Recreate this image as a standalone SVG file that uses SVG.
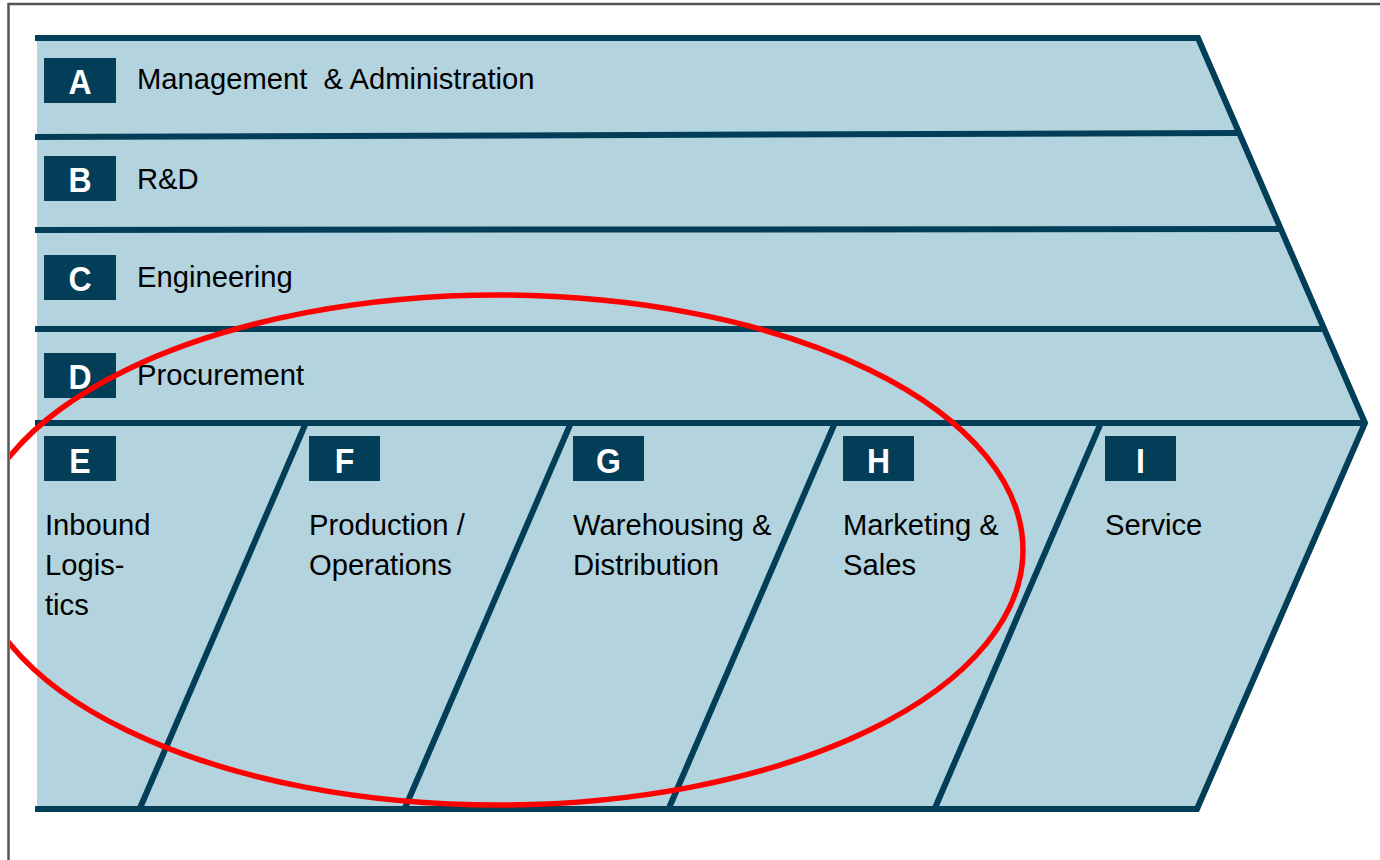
<svg xmlns="http://www.w3.org/2000/svg" width="1380" height="860" viewBox="0 0 1380 860">
<style>
.ln{stroke:#023e57;stroke-width:6;fill:none;stroke-linejoin:miter}
.box{fill:#023e57}
.ltr{font-family:"Liberation Sans",Arial,sans-serif;font-weight:bold;font-size:32px;fill:#ffffff;text-anchor:middle}
.txt{font-family:"Liberation Sans",Arial,sans-serif;font-size:29.2px;fill:#000000}
</style>
<defs>
<clipPath id="clipL"><rect x="10" y="0" width="1370" height="860"/></clipPath>
</defs>
<rect width="1380" height="860" fill="#ffffff"/>
<g id="page-frame" fill="none" stroke="#555555" stroke-width="2.5">
<path d="M8.5,860 V4 H1380"/>
</g>
<g id="chain-body">
<polygon points="37,38 1198,38 1365,423 1197,809 37,809" fill="#b3d3de"/>
</g>
<g id="connectors">
<path class="ln" d="M35,38 H1198 L1365,423 L1197,809 H35"/>
<path class="ln" d="M35,137 L1240,133"/>
<path class="ln" d="M35,230 L1281,229"/>
<path class="ln" d="M35,329 L1324,329"/>
<path class="ln" d="M35,423 L1365,423"/>
<path class="ln" d="M305,425 L140,808"/>
<path class="ln" d="M570,425 L405,808"/>
<path class="ln" d="M834,425 L669,808"/>
<path class="ln" d="M1100,425 L935,808"/>
</g>
<g id="node-A"><rect class="box" x="44" y="58" width="72" height="45"/><text class="ltr" transform="translate(80,94) scale(1,1.12)">A</text><text class="txt" x="137" y="89" xml:space="preserve">Management  &amp; Administration</text></g>
<g id="node-B"><rect class="box" x="44" y="156" width="72" height="45"/><text class="ltr" transform="translate(80,192) scale(1,1.12)">B</text><text class="txt" x="137" y="189">R&amp;D</text></g>
<g id="node-C"><rect class="box" x="44" y="255" width="72" height="45"/><text class="ltr" transform="translate(80,291) scale(1,1.12)">C</text><text class="txt" x="137" y="287">Engineering</text></g>
<g id="node-D"><rect class="box" x="44" y="353" width="72" height="45"/><text class="ltr" transform="translate(80,389) scale(1,1.12)">D</text><text class="txt" x="137" y="385">Procurement</text></g>
<g id="node-E"><rect class="box" x="44" y="436" width="72" height="45"/><text class="ltr" transform="translate(80,473) scale(1,1.12)">E</text><text class="txt" x="45" y="535">Inbound</text><text class="txt" x="45" y="575">Logis-</text><text class="txt" x="45" y="615">tics</text></g>
<g id="node-F"><rect class="box" x="309" y="436" width="71" height="45"/><text class="ltr" transform="translate(344.5,473) scale(1,1.12)">F</text><text class="txt" x="309" y="535">Production /</text><text class="txt" x="309" y="575">Operations</text></g>
<g id="node-G"><rect class="box" x="573" y="436" width="71" height="45"/><text class="ltr" transform="translate(608.5,473) scale(1,1.12)">G</text><text class="txt" x="573" y="535">Warehousing &amp;</text><text class="txt" x="573" y="575">Distribution</text></g>
<g id="node-H"><rect class="box" x="843" y="436" width="71" height="45"/><text class="ltr" transform="translate(878.5,473) scale(1,1.12)">H</text><text class="txt" x="843" y="535">Marketing &amp;</text><text class="txt" x="843" y="575">Sales</text></g>
<g id="node-I"><rect class="box" x="1105" y="436" width="71" height="45"/><text class="ltr" transform="translate(1140.5,473) scale(1,1.12)">I</text><text class="txt" x="1105" y="535">Service</text></g>
<g id="highlight" clip-path="url(#clipL)">
<ellipse cx="498" cy="550" rx="525" ry="255" fill="none" stroke="#ff0000" stroke-width="5.5"/>
</g>
</svg>
